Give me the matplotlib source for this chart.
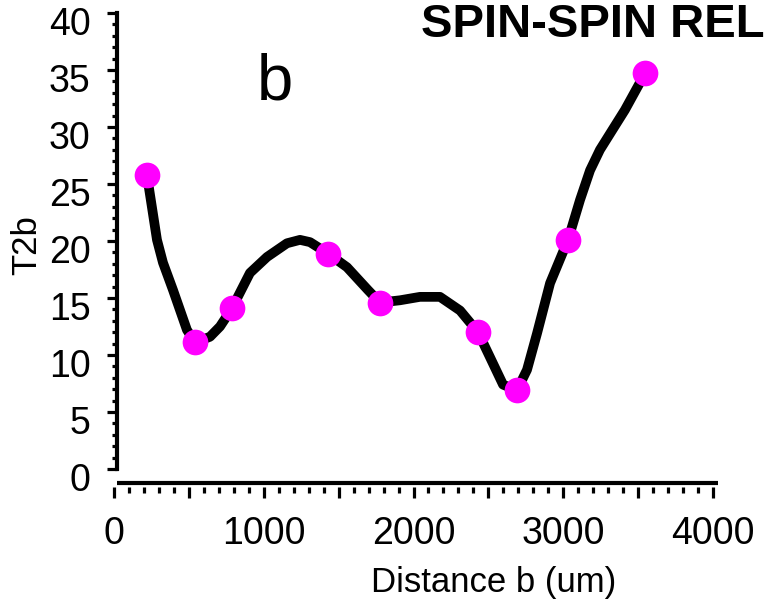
import numpy as np
import matplotlib
matplotlib.use('Agg')
import matplotlib.pyplot as plt
from matplotlib.ticker import MultipleLocator
from matplotlib.transforms import ScaledTranslation

plt.rcParams.update({
    'font.family': 'Liberation Sans',
    'font.size': 27,
})

# T2b profile along distance b (um)
dist_line = [220, 287, 327, 394, 487, 541, 641, 708, 788, 908, 1022, 1155, 1242,
             1309, 1429, 1556, 1696, 1776, 1910, 2043, 2177, 2311, 2431, 2511,
             2598, 2691, 2758, 2825, 2912, 3032, 3112, 3179, 3245, 3326, 3412,
             3479, 3546]
t2b_line = [25.8, 20.1, 18.1, 15.7, 12.2, 11.1, 11.6, 12.5, 14.1, 17.2, 18.6, 19.8,
            20.1, 19.9, 18.9, 17.7, 15.7, 14.6, 14.8, 15.1, 15.1, 13.9, 12.0, 9.8,
            7.4, 6.9, 8.7, 11.9, 16.3, 20.1, 23.6, 26.2, 28.0, 29.7, 31.5, 33.1,
            34.7]

# measured points
dist_pts = [220, 541, 788, 1429, 1776, 2431, 2691, 3032, 3546]
t2b_pts = [25.8, 11.1, 14.1, 18.9, 14.6, 12.0, 6.9, 20.1, 34.7]

fig = plt.figure(figsize=(7.65, 6.06), dpi=100)
ax = fig.add_axes([114 / 765, 137 / 606, 599 / 765, 456 / 606])

ax.plot(dist_line, t2b_line, color='black', lw=7, solid_capstyle='round',
        solid_joinstyle='round', zorder=2)
ax.plot(dist_pts, t2b_pts, 'o', color='#ff00ff', ms=18.5, mec='none', zorder=3)

ax.set_xlim(0, 4000)
ax.set_ylim(0, 40)
ax.xaxis.set_minor_locator(MultipleLocator(100))
ax.yaxis.set_major_locator(MultipleLocator(5))
ax.yaxis.set_minor_locator(MultipleLocator(1))
ax.set_xticks([0, 500, 1000, 1500, 2000, 2500, 3000, 3500, 4000])
ax.set_xticklabels(['0', '', '1000', '', '2000', '', '3000', '', '4000'])

for s in ['top', 'right']:
    ax.spines[s].set_visible(False)
ax.spines['left'].set_linewidth(3)
ax.spines['left'].set_position(('data', 20))
ax.spines['bottom'].set_position(('outward', 13))
ax.spines['bottom'].set_visible(False)

ax.tick_params(axis='y', which='major', direction='out', length=7.5, width=2.3, pad=11.5)
ax.tick_params(axis='y', which='minor', direction='out', length=3.8, width=2.3)
ax.tick_params(axis='x', which='major', direction='out', length=8, width=2.3, pad=13)
ax.tick_params(axis='x', which='minor', direction='out', length=4.3, width=2.3)

# bottom axis line sits a bit above its ticks
line_tr = ax.transAxes + ScaledTranslation(0, -14 / 100, fig.dpi_scale_trans)
ax.plot([0.005, 1.008], [0, 0], color='black', lw=3, transform=line_tr,
        clip_on=False, solid_capstyle='butt')

for lab in ax.get_yticklabels():
    lab.set_transform(lab.get_transform() + ScaledTranslation(0, -8 / 100, fig.dpi_scale_trans))

ax.set_xlabel('Distance b (um)', fontsize=25)
ax.xaxis.set_label_coords(0.634, -0.212)
ax.set_ylabel('T2b', fontsize=25)
ax.yaxis.set_label_coords(-0.118, 0.49)

ax.text(257 / 765, 1 - 100 / 606, 'b', transform=fig.transFigure, fontsize=47,
        ha='left', va='baseline')
fig.text(421 / 765, 1 - 37 / 606, 'SPIN-SPIN REL', fontsize=34, fontweight='bold',
         ha='left', va='baseline')

fig.savefig('out.png', dpi=100)
